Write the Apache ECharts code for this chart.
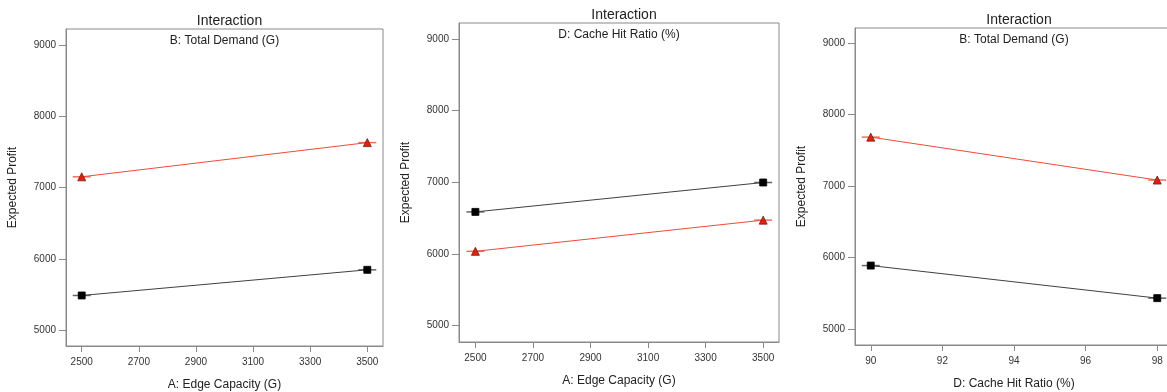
<!DOCTYPE html>
<html>
<head>
<meta charset="utf-8">
<script src="https://cdn.jsdelivr.net/npm/echarts@6/dist/echarts.min.js"></script>
<style>html,body{margin:0;padding:0;background:#fff}#c{width:1167px;height:392px}</style>
</head>
<body>
<div id="c"></div>
<script>
// ---- data ----
const panelTitles = ['Interaction', 'Interaction', 'Interaction'];
const factorLabels = ['B: Total Demand (G)', 'D: Cache Hit Ratio (%)', 'B: Total Demand (G)'];
const xNames = ['A: Edge Capacity (G)', 'A: Edge Capacity (G)', 'D: Cache Hit Ratio (%)'];
const yName = 'Expected Profit';
const xLevelsA = [2500, 3500];
const xLevelsD = [90, 98];
const xTicksA = [2500, 2700, 2900, 3100, 3300, 3500];
const xTicksD = [90, 92, 94, 96, 98];
const yTicks = [5000, 6000, 7000, 8000, 9000];
const p1Red = [7150, 7630];
const p1Black = [5485, 5845];
const p2Black = [6585, 6995];
const p2Red = [6035, 6470];
const p3Red = [7685, 7085];
const p3Black = [5890, 5435];

// ---- layout ----
const grids = [
  {left: 66, top: 29, width: 317, height: 317},
  {left: 459, top: 23, width: 320, height: 319},
  {left: 855, top: 28, width: 318, height: 317}
];
const xRanges = [[2445, 3555], [2443, 3555], [89.56, 98.44]];
const yRanges = [[4776, 9224], [4770, 9220], [4780, 9210]];
const xTickSets = [xTicksA, xTicksA, xTicksD];
const xLevelSets = [xLevelsA, xLevelsA, xLevelsD];
const seriesSets = [
  [['red', p1Red], ['black', p1Black]],
  [['black', p2Black], ['red', p2Red]],
  [['red', p3Red], ['black', p3Black]]
];

const FONT = 'Liberation Sans, Arial, sans-serif';
const styles = {
  red: {line: '#f04a3a', fill: '#e02010', border: '#702010', symbol: 'triangle', size: 8},
  black: {line: '#404040', fill: '#000', border: '#000', symbol: 'rect', size: 7}
};
const plain = v => String(v);

const option = {
  animation: false,
  backgroundColor: '#fff',
  title: [],
  grid: [], xAxis: [], yAxis: [], series: [], graphic: []
};

grids.forEach((g, i) => {
  option.grid.push(Object.assign({show: true, borderColor: '#8a8a8a', borderWidth: 1, backgroundColor: 'transparent', containLabel: false, outerBoundsMode: 'none'}, g));
  option.title.push({
    text: panelTitles[i], left: g.left + g.width / 2, top: g.top - 20, textAlign: 'center',
    textStyle: {fontFamily: FONT, fontSize: 14, fontWeight: 'normal', color: '#222'}
  });
  option.graphic.push({
    type: 'text', x: g.left + g.width / 2, y: g.top + 6,
    style: {text: factorLabels[i], x: 0, y: 0, textAlign: 'center', textVerticalAlign: 'top', font: '12px ' + FONT, fill: '#222'}
  });
  option.xAxis.push({
    type: 'value', gridIndex: i, min: xRanges[i][0], max: xRanges[i][1],
    name: xNames[i], nameLocation: 'middle', nameGap: 33,
    nameTextStyle: {fontFamily: FONT, fontSize: 12, color: '#222'},
    axisLine: {show: true, lineStyle: {color: '#8a8a8a'}},
    axisTick: {show: true, length: 6, lineStyle: {color: '#8a8a8a'}, customValues: xTickSets[i]},
    axisLabel: {fontFamily: FONT, fontSize: 10, color: '#333', margin: 11, customValues: xTickSets[i], formatter: plain},
    splitLine: {show: false}
  });
  option.yAxis.push({
    type: 'value', gridIndex: i, min: yRanges[i][0], max: yRanges[i][1],
    name: yName, nameLocation: 'middle', nameGap: 47, nameRotate: 90,
    nameTextStyle: {fontFamily: FONT, fontSize: 12, color: '#222'},
    axisLine: {show: true, lineStyle: {color: '#8a8a8a'}},
    axisTick: {show: true, length: 7, lineStyle: {color: '#8a8a8a'}, customValues: yTicks},
    axisLabel: {fontFamily: FONT, fontSize: 10, color: '#333', margin: 10, customValues: yTicks, formatter: plain},
    splitLine: {show: false}
  });
  seriesSets[i].forEach(([key, vals]) => {
    const s = styles[key];
    const pts = xLevelSets[i].map((x, k) => [x, vals[k]]);
    option.series.push({
      type: 'scatter', xAxisIndex: i, yAxisIndex: i, data: pts,
      symbol: 'rect', symbolSize: [18, 1.5], itemStyle: {color: s.line}, z: 2, silent: true
    });
    option.series.push({
      type: 'line', xAxisIndex: i, yAxisIndex: i, data: pts,
      lineStyle: {color: s.line, width: 1},
      symbol: s.symbol, symbolSize: s.size, showSymbol: true,
      itemStyle: {color: s.fill, borderColor: s.border, borderWidth: 0.8},
      z: 3, silent: true
    });
  });
});

const chart = echarts.init(document.getElementById('c'), null, {renderer: 'canvas'});
chart.setOption(option);
</script>
</body>
</html>
